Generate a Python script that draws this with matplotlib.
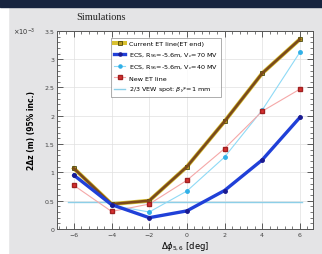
import matplotlib
matplotlib.use("Agg")
import matplotlib.pyplot as plt
from matplotlib.patches import Rectangle
from matplotlib.ticker import AutoMinorLocator

phase = [-6, -4, -2, 0, 2, 4, 6]
current_et = [1.07, 0.44, 0.50, 1.10, 1.90, 2.75, 3.35]
ecs_70 = [0.95, 0.43, 0.20, 0.32, 0.68, 1.22, 1.97]
ecs_40 = [0.95, 0.42, 0.30, 0.67, 1.27, 2.10, 3.12]
new_et = [0.77, 0.31, 0.44, 0.86, 1.42, 2.08, 2.47]
vew_x = [-6.3, 6.1]
vew_y = [0.48, 0.48]

labels = [
    "Current ET line(ET end)",
    r"ECS, R$_{56}$=-5.6m, V$_c$=70 MV",
    r"ECS, R$_{56}$=-5.6m, V$_c$=40 MV",
    "New ET line",
    r"2/3 VEW spot: $\beta_y$*=1 mm",
]

fig = plt.figure(figsize=(3.22, 2.55), dpi=100, facecolor="#e4e4e6")
# white strip on the left and dark header band on top
fig.patches.append(Rectangle((0, 0), 0.025, 1, transform=fig.transFigure,
                             color="white", zorder=0))
fig.patches.append(Rectangle((0, 0.968), 1, 0.032, transform=fig.transFigure,
                             color="#17243f", zorder=1))

ax = fig.add_axes([0.177, 0.098, 0.795, 0.777])
ax.set_facecolor("white")

ax.plot(phase, current_et, color="#d8c030", lw=2.9, marker="s", ms=2.5,
        mfc="#b89a20", mec="#333300", mew=0.5, label=labels[0], zorder=3)
ax.plot(phase, current_et, color="#7b4a1c", lw=1.9, zorder=4)
ax.plot(phase, ecs_70, color="#2040d8", lw=2.4, marker="o", ms=2.5,
        mfc="#1a1a90", mec="#1a1a90", label=labels[1], zorder=5)
ax.plot(phase, ecs_40, color="#8fdaf6", lw=0.8, marker="o", ms=2.5,
        mfc="#30b0e8", mec="#30b0e8", label=labels[2], zorder=3)
ax.plot(phase, new_et, color="#f5a8a8", lw=0.8, marker="s", ms=2.5,
        mfc="#d83030", mec="#a02020", label=labels[3], zorder=3)
ax.plot(vew_x, vew_y, color="#8ccfe8", lw=1.0, label=labels[4], zorder=2)

ax.set_xlim(-6.9, 6.7)
ax.set_ylim(0, 3.5)
ax.set_xticks(phase)
ax.set_yticks([0, 0.5, 1, 1.5, 2, 2.5, 3, 3.5])
ax.set_yticklabels(["0", "0.5", "1", "1.5", "2", "2.5", "3", "3.5"])
ax.xaxis.set_minor_locator(AutoMinorLocator(5))
ax.yaxis.set_minor_locator(AutoMinorLocator(5))
ax.tick_params(which="both", direction="in", top=True, right=True,
               labelsize=4.5, pad=2, colors="#444444")
ax.tick_params(which="major", length=4, width=0.6)
ax.tick_params(which="minor", length=2, width=0.5)
ax.grid(True, color="#e0e0e0", lw=0.5)
for s in ax.spines.values():
    s.set_color("#555555")
    s.set_linewidth(0.7)

ax.set_xlabel(r"$\Delta\phi_{5,6}$ [deg]", fontsize=6, labelpad=2)
ax.set_ylabel("2Δz (m) (95% inc.)", fontsize=5.5, fontweight="bold", labelpad=6)
ax.text(-0.085, 1.0, r"$\times10^{-3}$", transform=ax.transAxes,
        fontsize=4.8, va="center", ha="right", color="#333333")
fig.text(0.315, 0.93, "Simulations", fontsize=7.5, family="Liberation Serif",
         ha="center", va="center", color="#222222")

leg = ax.legend(loc="upper left", bbox_to_anchor=(0.2, 0.98), fontsize=4.6,
                frameon=True, fancybox=False, borderpad=0.4, labelspacing=0.6,
                handlelength=1.8, handletextpad=0.6, markerscale=0.9)
leg.get_frame().set_edgecolor("#888888")
leg.get_frame().set_linewidth(0.6)

fig.savefig("out.png", dpi=100, facecolor=fig.get_facecolor())
